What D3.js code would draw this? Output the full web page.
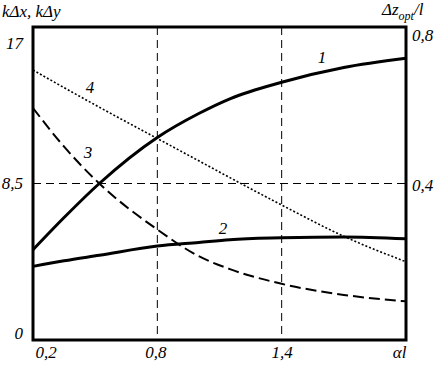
<!DOCTYPE html>
<html>
<head>
<meta charset="utf-8">
<script src="https://cdn.jsdelivr.net/npm/d3@7"></script>
<style>
  body { margin: 0; background: #fff; }
</style>
</head>
<body>
<svg width="438" height="365"></svg>
<script>
// data
var alpha = [0.2, 0.35, 0.52, 0.8, 1.0, 1.15, 1.4, 1.7, 2.0];
var curve1 = [4.9, 6.65, 8.5, 11.0, 12.3, 13.1, 14.0, 14.8, 15.3];  // left axis
var curve2 = [4.0, 4.3, 4.6, 5.1, 5.3, 5.45, 5.55, 5.6, 5.5];        // left axis
var curve3 = [12.6, 10.5, 8.5, 6.0, 4.55, 3.85, 3.05, 2.45, 2.1];    // left axis
var curve4 = [0.69, 0.645, 0.595, 0.515, 0.458, 0.415, 0.345, 0.265, 0.2]; // right axis

var xTicks = [0.2, 0.8, 1.4, 2.0];
var xTickLabels = ["0,2", "0,8", "1,4", "αl"];
var yLeftTicks = [0, 8.5, 17];
var yLeftLabels = ["0", "8,5", "17"];
var yRightTicks = [0.4, 0.8];
var yRightLabels = ["0,4", "0,8"];

var svg = d3.select("svg");
var pLeft = 33, pRight = 406, pTop = 27, pBottom = 340;

var x = d3.scaleLinear().domain([0.2, 2.0]).range([pLeft, pRight]);
var yL = d3.scaleLinear().domain([0, 17]).range([pBottom, pTop]);
var yR = d3.scaleLinear().domain([0, 0.8]).range([pBottom, pTop]);

// dashed grid
var grid = svg.append("g").attr("stroke", "#000").attr("stroke-width", 1).attr("stroke-dasharray", "8,5");
[0.8, 1.4].forEach(function(v) {
  grid.append("line").attr("x1", x(v)).attr("x2", x(v)).attr("y1", pTop).attr("y2", pBottom);
});
grid.append("line").attr("x1", pLeft).attr("x2", pRight).attr("y1", yL(8.5)).attr("y2", yL(8.5));

// curves
function lineOf(vals, scale) {
  return d3.line()
    .x(function(d, i) { return x(alpha[i]); })
    .y(function(d) { return scale(d); })
    .curve(d3.curveMonotoneX)(vals);
}
svg.append("path").attr("d", lineOf(curve1, yL)).attr("fill", "none").attr("stroke", "#000").attr("stroke-width", 3);
svg.append("path").attr("d", lineOf(curve2, yL)).attr("fill", "none").attr("stroke", "#000").attr("stroke-width", 3);
svg.append("path").attr("d", lineOf(curve3, yL)).attr("fill", "none").attr("stroke", "#000").attr("stroke-width", 2)
  .attr("stroke-dasharray", "11,5");
svg.append("path").attr("d", lineOf(curve4, yR)).attr("fill", "none").attr("stroke", "#000").attr("stroke-width", 1.6)
  .attr("stroke-dasharray", "2,2");

// frame
svg.append("rect").attr("x", pLeft).attr("y", pTop).attr("width", pRight - pLeft).attr("height", pBottom - pTop)
  .attr("fill", "none").attr("stroke", "#000").attr("stroke-width", 3);

// axes (text only)
var gx = svg.append("g").attr("transform", "translate(0," + pBottom + ")")
  .call(d3.axisBottom(x).tickValues(xTicks).tickSize(0).tickPadding(6)
    .tickFormat(function(d, i) { return xTickLabels[i]; }));
gx.selectAll("text").attr("text-anchor", function(d, i) { return i == 0 ? "start" : (i == xTicks.length - 1 ? "end" : "middle"); })
  .attr("dx", function(d, i) { return i == 0 ? 2 : (i == 1 ? -2 : 0); });

var gl = svg.append("g").attr("transform", "translate(" + pLeft + ",0)")
  .call(d3.axisLeft(yL).tickValues(yLeftTicks).tickSize(0).tickPadding(10)
    .tickFormat(function(d, i) { return yLeftLabels[i]; }));
gl.selectAll("text").attr("dy", function(d) { return d == 17 ? "1.25em" : (d == 0 ? "-0.1em" : "0.32em"); });

var gr = svg.append("g").attr("transform", "translate(" + pRight + ",0)")
  .call(d3.axisRight(yR).tickValues(yRightTicks).tickSize(0).tickPadding(6)
    .tickFormat(function(d, i) { return yRightLabels[i]; }));
gr.selectAll("text").attr("dy", function(d) { return d == 0.8 ? "0.8em" : "0.42em"; });

svg.selectAll(".domain").remove();

// titles
svg.append("text").attr("x", 2).attr("y", 17).text("kΔx, kΔy");
var rt = svg.append("text").attr("x", 382).attr("y", 15);
rt.append("tspan").text("Δz");
rt.append("tspan").attr("dy", 5).attr("font-size", 12).text("opt");
rt.append("tspan").attr("dy", -5).text("/l");

// curve labels
var labels = [["1", 322, 63], ["2", 223, 234], ["3", 88, 158], ["4", 90, 93]];
labels.forEach(function(l) {
  svg.append("text").attr("x", l[1]).attr("y", l[2]).attr("text-anchor", "middle").text(l[0]);
});

// serif italic for every text
svg.selectAll("g").attr("font-family", null).attr("font-size", null);
svg.selectAll("text")
  .attr("font-family", "Times New Roman, Times, Liberation Serif, Tinos, DejaVu Serif, serif")
  .attr("font-style", "italic")
  .attr("fill", "#000")
  .filter(function() { return !this.hasAttribute("font-size"); })
  .attr("font-size", 17);
</script>
</body>
</html>
